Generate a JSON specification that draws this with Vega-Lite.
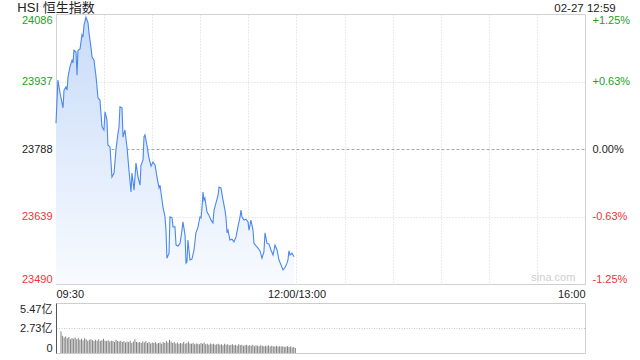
{
  "$schema": "https://vega.github.io/schema/vega-lite/v6.json",
  "background": "white",
  "padding": {"left": 5, "top": 1, "right": 0, "bottom": 0},
  "spacing": 2,
  "config": {
    "font": "Liberation Sans, Noto Sans CJK SC",
    "view": {"stroke": "#d0d0d0"},
    "axis": {"labelFont": "Liberation Sans, Noto Sans CJK SC", "labelFontSize": 11}
  },
  "datasets": {
    "price": [
      {"t":0,"p":23845},{"t":1.2,"p":23940},{"t":2.5,"p":23912},{"t":4.4,"p":23879},{"t":5,"p":23918},
      {"t":6.2,"p":23925},{"t":6.9,"p":23918},{"t":7.5,"p":23947},{"t":8.7,"p":23969},{"t":10,"p":23984},
      {"t":10.6,"p":23978},{"t":11.2,"p":24006},{"t":12.5,"p":24002},{"t":13.1,"p":23951},{"t":13.7,"p":24006},
      {"t":15,"p":24009},{"t":16.2,"p":24040},{"t":16.8,"p":24035},{"t":17.5,"p":24062},{"t":18.7,"p":24079},
      {"t":20,"p":24066},{"t":20.6,"p":24044},{"t":21.8,"p":24013},{"t":22.5,"p":23991},{"t":23.7,"p":23984},
      {"t":25,"p":23947},{"t":26.2,"p":23901},{"t":27.4,"p":23896},{"t":28.7,"p":23837},{"t":29.9,"p":23830},
      {"t":30.6,"p":23870},{"t":31.8,"p":23852},{"t":32.4,"p":23797},{"t":33.7,"p":23792},{"t":34.9,"p":23726},
      {"t":36.2,"p":23735},{"t":37.4,"p":23786},{"t":38.7,"p":23823},{"t":39.3,"p":23837},{"t":39.9,"p":23881},
      {"t":41.2,"p":23879},{"t":41.8,"p":23814},{"t":43,"p":23830},{"t":44.3,"p":23792},{"t":45.5,"p":23742},
      {"t":46.8,"p":23693},{"t":47.4,"p":23735},{"t":48.7,"p":23697},{"t":49.9,"p":23757},{"t":51.2,"p":23726},
      {"t":52.4,"p":23708},{"t":53,"p":23752},{"t":54.3,"p":23764},{"t":54.9,"p":23815},{"t":55.5,"p":23819},
      {"t":56.8,"p":23795},{"t":58,"p":23768},{"t":59.3,"p":23750},{"t":60.5,"p":23759},{"t":61.8,"p":23753},
      {"t":63,"p":23726},{"t":64.3,"p":23702},{"t":64.9,"p":23708},{"t":66.7,"p":23660},{"t":68,"p":23638},
      {"t":68.6,"p":23609},{"t":69.2,"p":23547},{"t":70.5,"p":23558},{"t":71.1,"p":23638},{"t":72.4,"p":23636},
      {"t":73,"p":23616},{"t":74.2,"p":23616},{"t":74.9,"p":23576},{"t":76.1,"p":23574},{"t":77.4,"p":23580},
      {"t":78.6,"p":23609},{"t":79.2,"p":23627},{"t":80.5,"p":23598},{"t":81.1,"p":23536},{"t":81.7,"p":23539},
      {"t":82.3,"p":23587},{"t":83.6,"p":23543},{"t":84.8,"p":23545},{"t":86.1,"p":23565},{"t":87.3,"p":23603},
      {"t":88.6,"p":23616},{"t":89.8,"p":23638},{"t":90.5,"p":23636},{"t":91.1,"p":23660},{"t":91.7,"p":23693},
      {"t":92.3,"p":23675},{"t":92.9,"p":23680},{"t":94.2,"p":23649},{"t":95.4,"p":23642},{"t":96.7,"p":23631},
      {"t":97.9,"p":23625},{"t":98.6,"p":23653},{"t":99.8,"p":23669},{"t":101.1,"p":23686},{"t":101.7,"p":23704},
      {"t":102.9,"p":23702},{"t":104.2,"p":23675},{"t":105.4,"p":23653},{"t":106,"p":23638},{"t":106.7,"p":23603},
      {"t":107.3,"p":23609},{"t":108.5,"p":23587},{"t":109.8,"p":23589},{"t":111,"p":23583},{"t":112.3,"p":23594},
      {"t":113.5,"p":23616},{"t":114.8,"p":23638},{"t":115.4,"p":23653},{"t":116,"p":23638},{"t":117.3,"p":23631},
      {"t":118.5,"p":23633},{"t":119.8,"p":23627},{"t":120.4,"p":23609},{"t":121.6,"p":23631},{"t":122.9,"p":23609},
      {"t":123.5,"p":23580},{"t":124.8,"p":23574},{"t":126,"p":23569},{"t":127.3,"p":23563},{"t":128.5,"p":23547},
      {"t":129.7,"p":23561},{"t":130.4,"p":23603},{"t":131.6,"p":23580},{"t":132.9,"p":23578},{"t":134.1,"p":23565},
      {"t":135.4,"p":23554},{"t":136.6,"p":23576},{"t":137.9,"p":23565},{"t":139.1,"p":23543},{"t":140.4,"p":23532},
      {"t":141.6,"p":23521},{"t":142.9,"p":23527},{"t":144.1,"p":23536},{"t":144.7,"p":23543},{"t":145.3,"p":23563},
      {"t":146,"p":23554},{"t":147.2,"p":23558},{"t":148.5,"p":23550}
    ],
    "vol": [
      {"t":0,"v":2.35},{"t":1,"v":1.9},{"t":2,"v":1.7},{"t":3,"v":1.8},{"t":4,"v":1.6},{"t":5,"v":1.75},{"t":6,"v":1.5},{"t":7,"v":1.65},{"t":8,"v":1.55},{"t":9,"v":1.7},
      {"t":10,"v":1.5},{"t":11,"v":1.6},{"t":12,"v":1.45},{"t":13,"v":1.55},{"t":14,"v":1.4},{"t":15,"v":1.6},{"t":16,"v":1.5},{"t":17,"v":1.35},{"t":18,"v":1.45},{"t":19,"v":1.5},
      {"t":20,"v":1.4},{"t":21,"v":1.3},{"t":22,"v":1.45},{"t":23,"v":1.35},{"t":24,"v":1.5},{"t":25,"v":1.3},{"t":26,"v":1.4},{"t":27,"v":1.55},{"t":28,"v":1.35},{"t":29,"v":1.3},
      {"t":30,"v":1.4},{"t":31,"v":1.25},{"t":32,"v":1.35},{"t":33,"v":1.3},{"t":34,"v":1.2},{"t":35,"v":1.45},{"t":36,"v":1.3},{"t":37,"v":1.25},{"t":38,"v":1.35},{"t":39,"v":1.2},
      {"t":40,"v":1.3},{"t":41,"v":1.15},{"t":42,"v":1.25},{"t":43,"v":1.2},{"t":44,"v":1.35},{"t":45,"v":1.1},{"t":46,"v":1.25},{"t":47,"v":1.5},{"t":48,"v":1.2},{"t":49,"v":1.15},
      {"t":50,"v":1.2},{"t":51,"v":1.1},{"t":52,"v":1.25},{"t":53,"v":1.15},{"t":54,"v":1.3},{"t":55,"v":1.1},{"t":56,"v":1.2},{"t":57,"v":1.05},{"t":58,"v":1.15},{"t":59,"v":1.1},
      {"t":60,"v":1.2},{"t":61,"v":1.05},{"t":62,"v":1.1},{"t":63,"v":1.15},{"t":64,"v":1.0},{"t":65,"v":1.2},{"t":66,"v":1.1},{"t":67,"v":1.3},{"t":68,"v":1.15},{"t":69,"v":1.45},
      {"t":70,"v":1.25},{"t":71,"v":1.1},{"t":72,"v":1.2},{"t":73,"v":1.05},{"t":74,"v":1.15},{"t":75,"v":1.0},{"t":76,"v":1.1},{"t":77,"v":1.05},{"t":78,"v":1.2},{"t":79,"v":1.0},
      {"t":80,"v":1.1},{"t":81,"v":1.25},{"t":82,"v":1.05},{"t":83,"v":1.0},{"t":84,"v":1.1},{"t":85,"v":0.95},{"t":86,"v":1.05},{"t":87,"v":1.0},{"t":88,"v":0.95},{"t":89,"v":1.1},
      {"t":90,"v":1.0},{"t":91,"v":1.15},{"t":92,"v":0.95},{"t":93,"v":1.0},{"t":94,"v":0.9},{"t":95,"v":1.05},{"t":96,"v":0.95},{"t":97,"v":1.0},{"t":98,"v":0.9},{"t":99,"v":0.95},
      {"t":100,"v":1.0},{"t":101,"v":0.9},{"t":102,"v":0.95},{"t":103,"v":0.85},{"t":104,"v":1.0},{"t":105,"v":0.9},{"t":106,"v":0.95},{"t":107,"v":0.85},{"t":108,"v":0.9},{"t":109,"v":0.95},
      {"t":110,"v":0.85},{"t":111,"v":0.9},{"t":112,"v":0.8},{"t":113,"v":0.95},{"t":114,"v":0.85},{"t":115,"v":0.9},{"t":116,"v":0.8},{"t":117,"v":0.85},{"t":118,"v":0.9},{"t":119,"v":0.8},
      {"t":120,"v":0.85},{"t":121,"v":0.8},{"t":122,"v":0.9},{"t":123,"v":0.75},{"t":124,"v":0.85},{"t":125,"v":0.8},{"t":126,"v":0.75},{"t":127,"v":0.85},{"t":128,"v":0.8},{"t":129,"v":0.75},
      {"t":130,"v":0.8},{"t":131,"v":0.75},{"t":132,"v":0.85},{"t":133,"v":0.7},{"t":134,"v":0.8},{"t":135,"v":0.75},{"t":136,"v":0.7},{"t":137,"v":0.8},{"t":138,"v":0.7},{"t":139,"v":0.75},
      {"t":140,"v":0.7},{"t":141,"v":0.75},{"t":142,"v":0.65},{"t":143,"v":0.7},{"t":144,"v":0.75},{"t":145,"v":0.65},{"t":146,"v":0.7},{"t":147,"v":0.6},{"t":148,"v":0.65},{"t":149,"v":0.55}
    ],
    "labels": [
      {"t":0,"p":24086,"txt":"HSI 恒生指数","kind":"title"},
      {"t":330,"p":24086,"txt":"02-27 12:59","kind":"date"}
    ],
    "mark": [{"t":324,"p":23490,"txt":"sina.com"}]
  },
  "vconcat": [
    {
      "width": 529,
      "height": 270,
      "layer": [
        {
          "layer": [
            {
              "data": {"name": "price"},
              "mark": {
                "type": "area",
                "color": {
                  "gradient": "linear", "x1": 0, "y1": 0, "x2": 0, "y2": 1,
                  "stops": [{"offset": 0, "color": "#c8dbf8"}, {"offset": 1, "color": "#f8fbff"}]
                }
              },
              "encoding": {
                "x": {
                  "field": "t", "type": "quantitative",
                  "scale": {"domain": [0, 330], "nice": false, "zero": false},
                  "axis": {
                    "values": [0, 30, 60, 90, 120, 150, 180, 210, 240, 270, 300, 330],
                    "labelExpr": "datum.value == 0 ? '09:30' : datum.value == 150 ? '12:00/13:00' : datum.value == 330 ? '16:00' : ''",
                    "labelFlush": true, "ticks": false, "domain": false, "title": null,
                    "grid": true, "gridColor": "#d4d4d4", "gridDash": [1, 2],
                    "labelPadding": 4, "labelColor": "#222"
                  }
                },
                "y": {
                  "field": "p", "type": "quantitative",
                  "scale": {"domain": [23490, 24086], "zero": false, "nice": false},
                  "axis": {
                    "values": [23490, 23639, 23788, 23937, 24086],
                    "format": "d",
                    "title": null, "ticks": false, "domain": false,
                    "labelFlush": true, "labelFlushOffset": 0, "labelPadding": 4,
                    "labelColor": {"expr": "datum.value > 23788 ? '#1f9e1f' : datum.value < 23788 ? '#f03434' : '#222222'"},
                    "grid": true,
                    "gridColor": {"condition": {"test": "datum.value == 23788", "value": "#a8a8a8"}, "value": "#d4d4d4"},
                    "gridDash": {"condition": {"test": "datum.value == 23788", "value": [3, 2]}, "value": [1, 2]},
                    "minExtent": 50, "maxExtent": 50
                  }
                },
                "y2": {"datum": 23490}
              }
            },
            {
              "data": {"name": "price"},
              "mark": {"type": "line", "color": "#4a87f0", "strokeWidth": 1.1},
              "encoding": {
                "x": {"field": "t", "type": "quantitative"},
                "y": {"field": "p", "type": "quantitative"}
              }
            },
            {
              "data": {"name": "labels"},
              "mark": {"type": "text", "baseline": "alphabetic", "dy": -2, "fontSize": 12.5, "color": "#222"},
              "encoding": {
                "x": {"field": "t", "type": "quantitative"},
                "y": {"field": "p", "type": "quantitative"},
                "text": {"field": "txt"},
                "align": {"condition": {"test": "datum.kind == 'title'", "value": "left"}, "value": "right"},
                "size": {"condition": {"test": "datum.kind == 'title'", "value": 13}, "value": 11.5}
              }
            },
            {
              "data": {"name": "mark"},
              "mark": {"type": "text", "baseline": "bottom", "align": "right", "dy": -1, "fontSize": 11, "color": "#cfcfcf"},
              "encoding": {
                "x": {"field": "t", "type": "quantitative"},
                "y": {"field": "p", "type": "quantitative"},
                "text": {"field": "txt"}
              }
            }
          ]
        },
        {
          "data": {"name": "price"},
          "mark": {"type": "line", "opacity": 0},
          "encoding": {
            "x": {"field": "t", "type": "quantitative"},
            "y": {
              "field": "p", "type": "quantitative",
              "scale": {"domain": [23490, 24086], "zero": false, "nice": false},
              "axis": {
                "orient": "right",
                "values": [23490, 23639, 23788, 23937, 24086],
                "labelExpr": "(datum.value > 23788 ? '+' : datum.value < 23788 ? '-' : '') + format(abs(datum.value - 23788) / 23788 * 100, '.2f') + '%'",
                "title": null, "ticks": false, "domain": false, "grid": false,
                "labelFlush": true, "labelFlushOffset": 0, "labelPadding": 7,
                "labelColor": {"expr": "datum.value > 23788 ? '#1f9e1f' : datum.value < 23788 ? '#f03434' : '#222222'"}
              }
            }
          }
        }
      ],
      "resolve": {"scale": {"y": "independent"}}
    },
    {
      "width": 529,
      "height": 50,
      "data": {"name": "vol"},
      "mark": {"type": "bar", "size": 1, "color": "#808080"},
      "encoding": {
        "x": {
          "field": "t", "type": "quantitative",
          "scale": {"domain": [0, 330], "nice": false, "zero": false},
          "axis": null
        },
        "y": {
          "field": "v", "type": "quantitative",
          "scale": {"domain": [0, 5.47], "nice": false},
          "axis": {
            "values": [0, 2.73, 5.47],
            "labelExpr": "datum.value == 0 ? '0' : format(datum.value, '.2f') + '亿'",
            "title": null, "ticks": false, "domain": true, "domainColor": "#555555",
            "labelFlush": true, "labelFlushOffset": 0, "labelPadding": 4, "labelColor": "#222",
            "grid": true, "gridColor": "#c8c8c8", "gridDash": [1, 1.5],
            "minExtent": 50, "maxExtent": 50
          }
        }
      }
    }
  ]
}
